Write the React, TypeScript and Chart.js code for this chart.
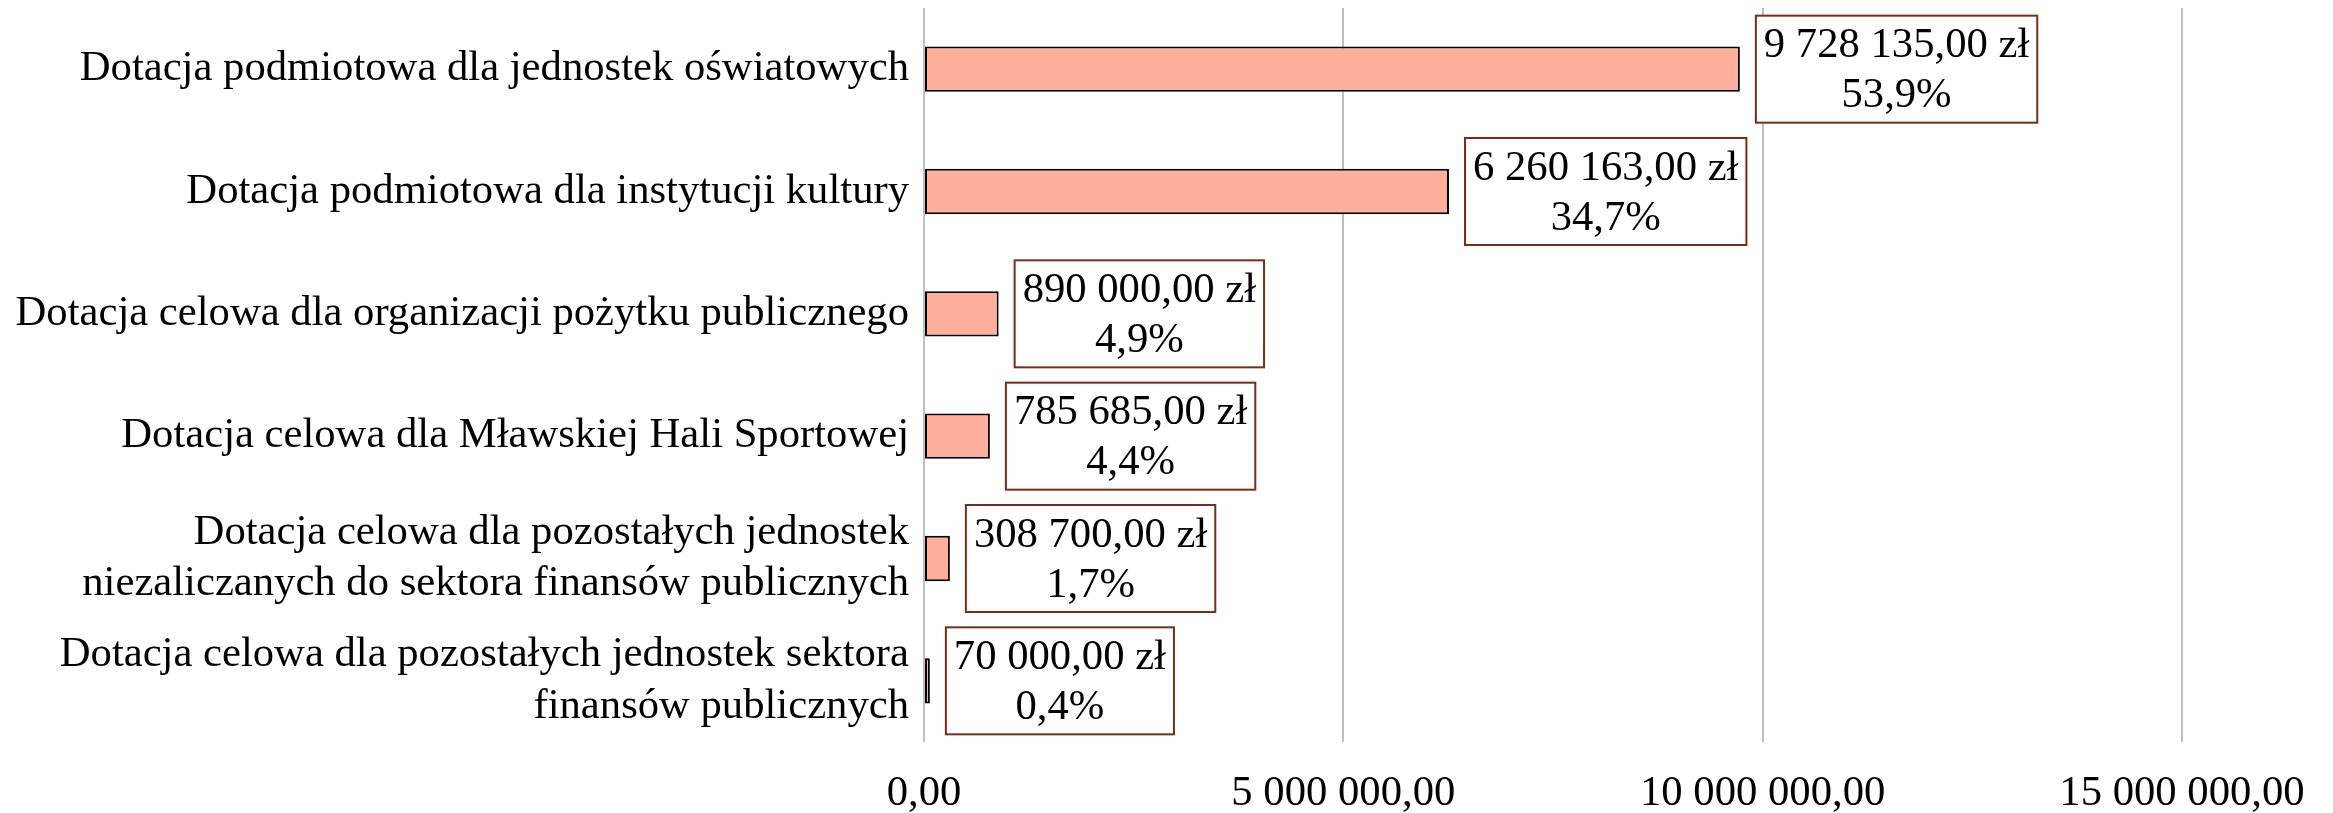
import React, { useEffect, useRef } from "react";
import { Chart, registerables } from "chart.js";

Chart.register(...registerables);

const categories: (string | string[])[] = [
  "Dotacja podmiotowa dla jednostek oświatowych",
  "Dotacja podmiotowa dla instytucji kultury",
  "Dotacja celowa dla organizacji pożytku publicznego",
  "Dotacja celowa dla Mławskiej Hali Sportowej",
  ["Dotacja celowa dla pozostałych jednostek", "niezaliczanych do sektora finansów publicznych"],
  ["Dotacja celowa dla pozostałych jednostek sektora", "finansów publicznych"],
];
const values: number[] = [9728135, 6260163, 890000, 785685, 308700, 70000];
const percents: string[] = ["53,9%", "34,7%", "4,9%", "4,4%", "1,7%", "0,4%"];
const xTicks: number[] = [0, 5000000, 10000000, 15000000];

const FONT = "'Liberation Serif', 'Times New Roman', serif";
const FS = 42.67;

function fmt(v: number): string {
  const fixed = v.toFixed(2);
  const [intPart, dec] = fixed.split(".");
  const grouped = intPart.replace(/\B(?=(\d{3})+(?!\d))/g, " ");
  return grouped + "," + dec;
}

const labelPlugin = {
  id: "boxLabels",
  afterDatasetsDraw(chart: any) {
    const ctx = chart.ctx;
    const meta = chart.getDatasetMeta(0);
    ctx.save();
    ctx.font = `${FS}px ${FONT}`;
    ctx.textAlign = "center";
    ctx.textBaseline = "middle";
    const lh = 50;
    meta.data.forEach((bar: any, i: number) => {
      const l1 = fmt(values[i]) + " zł";
      const l2 = percents[i];
      const w = Math.max(ctx.measureText(l1).width, ctx.measureText(l2).width) + 16;
      const h = lh * 2 + 7;
      const x0 = bar.x + 16;
      const y0 = bar.y - h / 2;
      ctx.fillStyle = "#ffffff";
      ctx.fillRect(x0, y0, w, h);
      ctx.strokeStyle = "#7E2A18";
      ctx.lineWidth = 2;
      ctx.strokeRect(x0, y0, w, h);
      ctx.fillStyle = "#000000";
      ctx.fillText(l1, x0 + w / 2, bar.y - lh / 2 + 2);
      ctx.fillText(l2, x0 + w / 2, bar.y + lh / 2 + 2);
    });
    ctx.restore();
  },
};

export default function App() {
  const ref = useRef<HTMLCanvasElement>(null);
  useEffect(() => {
    if (!ref.current) return;
    const chart = new Chart(ref.current, {
      type: "bar",
      data: {
        labels: categories,
        datasets: [
          {
            data: values,
            backgroundColor: "#FFAF9B",
            borderColor: "#000000",
            borderWidth: 2,
            borderSkipped: false,
            barPercentage: 0.37,
            categoryPercentage: 1,
          },
        ],
      },
      options: {
        indexAxis: "y",
        responsive: true,
        maintainAspectRatio: false,
        animation: false,
        layout: { padding: { top: 8, right: 151, bottom: 0, left: 0 } },
        plugins: { legend: { display: false }, tooltip: { enabled: false } },
        scales: {
          x: {
            min: 0,
            max: 15000000,
            afterBuildTicks: (scale: any) => {
              scale.ticks = xTicks.map((v) => ({ value: v }));
            },
            afterFit: (scale: any) => {
              scale.height = 71;
              scale.paddingLeft = 0;
              scale.paddingRight = 0;
            },
            grid: { display: true, color: "#BFBFBF", lineWidth: 2, drawTicks: false },
            border: { display: false },
            ticks: {
              padding: 26,
              color: "#000000",
              font: { family: FONT, size: FS },
              maxRotation: 0,
              callback: (v: any) => fmt(Number(v)),
            },
          },
          y: {
            afterFit: (scale: any) => {
              scale.width = 924;
              scale.paddingTop = 0;
              scale.paddingBottom = 0;
            },
            grid: { display: false, drawTicks: false },
            border: { display: false },
            ticks: {
              padding: 15,
              color: "#000000",
              font: { family: FONT, size: FS, lineHeight: 1.2 },
            },
          },
        },
      },
      plugins: [labelPlugin],
    });
    return () => chart.destroy();
  }, []);
  return (
    <div style={{ position: "fixed", left: 0, top: 0, width: 2333, height: 813, background: "#fff" }}>
      <canvas ref={ref} />
    </div>
  );
}
